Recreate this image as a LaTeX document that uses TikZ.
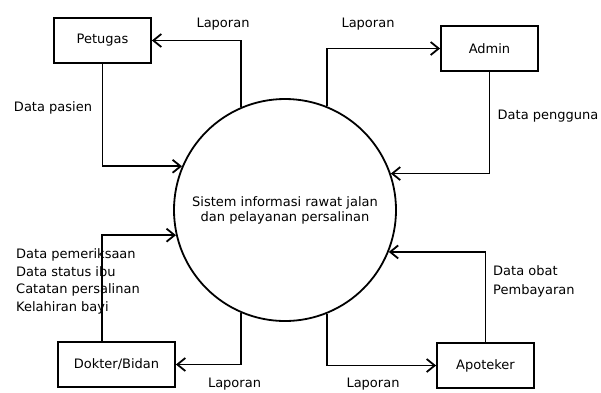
\documentclass[tikz,border=0pt]{standalone}
\usepackage{fontspec}
\setmainfont{DejaVu Sans}
\usetikzlibrary{arrows.meta}

\tikzset{
  entity/.style={draw, line width=1.8pt, minimum width=97pt, minimum height=45pt, inner sep=0pt},
  proc/.style={draw, circle, line width=1.8pt, minimum size=222pt, inner sep=0pt, align=center},
  flow/.style={line width=1.8pt, -{Straight Barb[length=8pt, width=13pt]}},
  lbl/.style={inner sep=0pt, align=left},
}

\begin{document}
\begin{tikzpicture}[x=1pt, y=-1pt, font=\fontsize{13}{18}\selectfont]
  \useasboundingbox (0,0) rectangle (601,392);

  % process
  \node[proc, font=\fontsize{13}{15}\selectfont] (sys) at (285,210)
    {Sistem informasi rawat jalan\\dan pelayanan persalinan};

  % external entities
  \node[entity] (petugas) at (102.5,40.5) {Petugas};
  \node[entity] (admin) at (489.5,48.5) {Admin};
  \node[entity, minimum width=117pt] (dokter) at (116.5,364.5) {Dokter/Bidan};
  \node[entity] (apoteker) at (485.5,365.5) {Apoteker};

  % data flows
  \draw[flow] (petugas.south) |- (sys.157);
  \draw[flow] (sys.113) |- (petugas.east);
  \draw[flow] (sys.68) |- (admin.west);
  \draw[flow] (admin.south) |- (sys.19);
  \draw[flow] (apoteker.north) |- (sys.-22);
  \draw[flow] (sys.-68) |- (apoteker.west);
  \draw[flow] (sys.-113) |- (dokter.east);
  \draw[flow] ([xshift=-14.5pt]dokter.north) |- (sys.193);

  % labels
  \node[lbl] (lpasien) at (53,108) {Data pasien};
  \node[lbl] (llap1) at (223,24) {Laporan};
  \node[lbl] (llap2) at (368,24) {Laporan};
  \node[lbl] (lpengguna) at (548,116) {Data pengguna};
  \node[lbl, anchor=west, font=\fontsize{13}{19}\selectfont] (lobat) at (493,281.5)
    {Data obat\\Pembayaran};
  \node[lbl, anchor=west, font=\fontsize{13}{17.7}\selectfont] (lperiksa) at (16,281.5)
    {Data pemeriksaan\\Data status ibu\\Catatan persalinan\\Kelahiran bayi};
  \node[lbl] (llap3) at (234.5,384) {Laporan};
  \node[lbl] (llap4) at (373,384) {Laporan};
\end{tikzpicture}
\end{document}
